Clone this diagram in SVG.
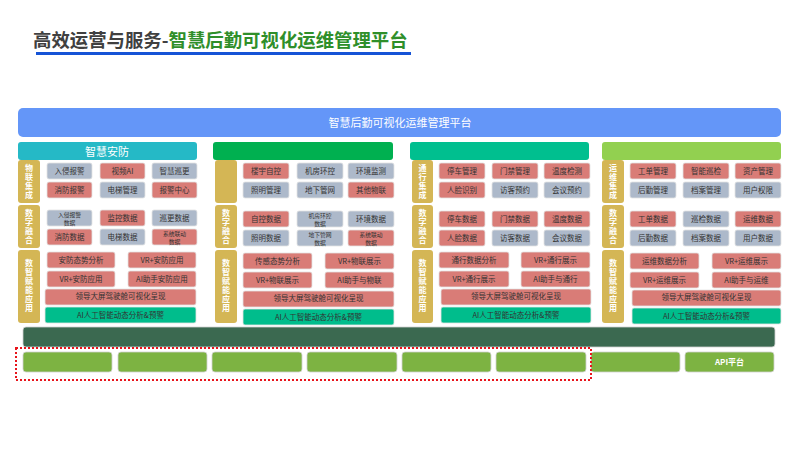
<svg xmlns="http://www.w3.org/2000/svg" width="800" height="450" viewBox="0 0 800 450">
<style>
text{font-family:"Noto Sans CJK SC","Noto Sans",sans-serif}
.r{fill:#d97c77;stroke:#e3e3e3;stroke-width:0.8}
.g{fill:#adb9ca;stroke:#e3e3e3;stroke-width:0.8}
.ai{fill:#00bd8c;stroke:#e3e3e3;stroke-width:0.8}
.gold{fill:#d4b655}
.t{font-size:7.5px;fill:#333;text-anchor:middle}
.t2{font-size:5.8px;fill:#333;text-anchor:middle}
.s{font-size:8px;fill:#fff;text-anchor:middle;font-weight:bold;writing-mode:vertical-rl;letter-spacing:1px}
.h{font-size:11px;fill:#fff;text-anchor:middle}
.bx{fill:#7db342;stroke:#d0d0d0;stroke-width:0.8}
</style>
<rect width="800" height="450" fill="#fff"/>
<g id="title">
<text x="33" y="47" font-size="18.4" font-weight="bold"><tspan fill="#404040">高效运营与服务-</tspan><tspan fill="#2f8f2a">智慧后勤可视化运维管理平台</tspan></text>
<rect x="36" y="52" width="375" height="3" fill="#1553d6"/>
</g>
<g id="platform">
<rect x="18" y="108" width="763" height="29" rx="5" fill="#6496f8"/>
<text x="400" y="127" font-size="11" fill="#fff" text-anchor="middle">智慧后勤可视化运维管理平台</text>
</g>

<g id="col1">
<rect x="18" y="142" width="179" height="18" rx="3" fill="#25b9c6"/>
<text class="h" x="107" y="155.5">智慧安防</text>
<rect class="gold" x="18" y="160" width="22" height="43" rx="3"/>
<text class="s" x="29" y="182">物联集成</text>
<rect class="gold" x="18" y="205" width="22" height="43" rx="3"/>
<text class="s" x="29" y="227">数字融合</text>
<rect class="gold" x="18" y="250" width="22" height="73" rx="3"/>
<text class="s" x="29" y="286">数智赋能应用</text>
<rect class="g" x="47" y="163" width="45" height="16" rx="2"/><text class="t" x="69.5" y="173.5">入侵报警</text>
<rect class="r" x="100" y="163" width="45" height="16" rx="2"/><text class="t" x="122.5" y="173.5">视频AI</text>
<rect class="g" x="152" y="163" width="45" height="16" rx="2"/><text class="t" x="174.5" y="173.5">智慧巡更</text>
<rect class="r" x="47" y="182" width="45" height="16" rx="2"/><text class="t" x="69.5" y="192.5">消防报警</text>
<rect class="g" x="100" y="182" width="45" height="16" rx="2"/><text class="t" x="122.5" y="192.5">电梯管理</text>
<rect class="r" x="152" y="182" width="45" height="16" rx="2"/><text class="t" x="174.5" y="192.5">报警中心</text>
<rect class="g" x="47" y="210" width="45" height="16" rx="2"/><text class="t2" x="69.5" y="216.5">入侵报警<tspan x="69.5" dy="8.5">数据</tspan></text>
<rect class="r" x="100" y="210" width="45" height="16" rx="2"/><text class="t" x="122.5" y="220.5">监控数据</text>
<rect class="g" x="152" y="210" width="45" height="16" rx="2"/><text class="t" x="174.5" y="220.5">巡更数据</text>
<rect class="r" x="47" y="229" width="45" height="16" rx="2"/><text class="t" x="69.5" y="239.5">消防数据</text>
<rect class="g" x="100" y="229" width="45" height="16" rx="2"/><text class="t" x="122.5" y="239.5">电梯数据</text>
<rect class="r" x="152" y="229" width="45" height="16" rx="2"/><text class="t2" x="174.5" y="235.5">系统联动<tspan x="174.5" dy="8.5">数据</tspan></text>
<rect class="r" x="47" y="252" width="68" height="16" rx="2"/><text class="t" x="81" y="262.5">安防态势分析</text>
<rect class="r" x="128" y="252" width="68" height="16" rx="2"/><text class="t" x="162" y="262.5">VR+安防应用</text>
<rect class="r" x="47" y="271" width="68" height="16" rx="2"/><text class="t" x="81" y="281.5">VR+安防应用</text>
<rect class="r" x="128" y="271" width="68" height="16" rx="2"/><text class="t" x="162" y="281.5">AI助手安防应用</text>
<rect class="r" x="45" y="289" width="151" height="16" rx="2"/><text class="t" x="120.5" y="299">领导大屏驾驶舱可视化呈现</text>
<rect class="ai" x="45" y="307" width="151" height="16" rx="2"/><text class="t" x="120.5" y="317.5">AI人工智能动态分析&amp;预警</text>
</g>

<g id="col2">
<rect x="213" y="142" width="180" height="18" rx="3" fill="#00b050"/>
<rect class="gold" x="215" y="160" width="22" height="43" rx="3"/>
<rect class="gold" x="215" y="205" width="22" height="43" rx="3"/>
<text class="s" x="226" y="227">数字融合</text>
<rect class="gold" x="215" y="250" width="22" height="73" rx="3"/>
<text class="s" x="226" y="286">数智赋能应用</text>
<rect class="r" x="243" y="163" width="46" height="16" rx="2"/><text class="t" x="266" y="173.5">楼宇自控</text>
<rect class="g" x="297" y="163" width="46" height="16" rx="2"/><text class="t" x="320" y="173.5">机房环控</text>
<rect class="g" x="348" y="163" width="46" height="16" rx="2"/><text class="t" x="371" y="173.5">环境监测</text>
<rect class="g" x="243" y="182" width="46" height="16" rx="2"/><text class="t" x="266" y="192.5">照明管理</text>
<rect class="g" x="297" y="182" width="46" height="16" rx="2"/><text class="t" x="320" y="192.5">地下管网</text>
<rect class="r" x="348" y="182" width="46" height="16" rx="2"/><text class="t" x="371" y="192.5">其他物联</text>
<rect class="r" x="243" y="211" width="46" height="16" rx="2"/><text class="t" x="266" y="221.5">自控数据</text>
<rect class="g" x="297" y="211" width="46" height="16" rx="2"/><text class="t2" x="320" y="217.5">机房环控<tspan x="320" dy="8.5">数据</tspan></text>
<rect class="g" x="348" y="211" width="46" height="16" rx="2"/><text class="t" x="371" y="221.5">环境数据</text>
<rect class="g" x="243" y="230" width="46" height="16" rx="2"/><text class="t" x="266" y="240.5">照明数据</text>
<rect class="g" x="297" y="230" width="46" height="16" rx="2"/><text class="t2" x="320" y="236.5">地下管网<tspan x="320" dy="8.5">数据</tspan></text>
<rect class="r" x="348" y="230" width="46" height="16" rx="2"/><text class="t2" x="371" y="236.5">系统联动<tspan x="371" dy="8.5">数据</tspan></text>
<rect class="r" x="243" y="253" width="69" height="16" rx="2"/><text class="t" x="277.5" y="263.5">传感态势分析</text>
<rect class="r" x="325" y="253" width="69" height="16" rx="2"/><text class="t" x="359.5" y="263.5">VR+物联展示</text>
<rect class="r" x="243" y="272" width="69" height="16" rx="2"/><text class="t" x="277.5" y="282.5">VR+物联展示</text>
<rect class="r" x="325" y="272" width="69" height="16" rx="2"/><text class="t" x="359.5" y="282.5">AI助手与物联</text>
<rect class="r" x="243" y="291" width="151" height="16" rx="2"/><text class="t" x="318.5" y="301">领导大屏驾驶舱可视化呈现</text>
<rect class="ai" x="243" y="309" width="151" height="16" rx="2"/><text class="t" x="318.5" y="319.5">AI人工智能动态分析&amp;预警</text>
</g>

<g id="col3">
<rect x="410" y="142" width="179" height="18" rx="3" fill="#00bf8f"/>
<rect class="gold" x="412" y="160" width="21" height="43" rx="3"/>
<text class="s" x="422.5" y="182">通行集成</text>
<rect class="gold" x="412" y="205" width="21" height="43" rx="3"/>
<text class="s" x="422.5" y="227">数字融合</text>
<rect class="gold" x="412" y="250" width="21" height="73" rx="3"/>
<text class="s" x="422.5" y="286">数智赋能应用</text>
<rect class="r" x="439" y="163" width="46" height="16" rx="2"/><text class="t" x="462" y="173.5">停车管理</text>
<rect class="r" x="492" y="163" width="46" height="16" rx="2"/><text class="t" x="515" y="173.5">门禁管理</text>
<rect class="r" x="544" y="163" width="46" height="16" rx="2"/><text class="t" x="567" y="173.5">温度检测</text>
<rect class="r" x="439" y="182" width="46" height="16" rx="2"/><text class="t" x="462" y="192.5">人脸识别</text>
<rect class="g" x="492" y="182" width="46" height="16" rx="2"/><text class="t" x="515" y="192.5">访客预约</text>
<rect class="g" x="544" y="182" width="46" height="16" rx="2"/><text class="t" x="567" y="192.5">会议预约</text>
<rect class="r" x="439" y="211" width="46" height="16" rx="2"/><text class="t" x="462" y="221.5">停车数据</text>
<rect class="r" x="492" y="211" width="46" height="16" rx="2"/><text class="t" x="515" y="221.5">门禁数据</text>
<rect class="r" x="544" y="211" width="46" height="16" rx="2"/><text class="t" x="567" y="221.5">温度数据</text>
<rect class="r" x="439" y="230" width="46" height="16" rx="2"/><text class="t" x="462" y="240.5">人脸数据</text>
<rect class="g" x="492" y="230" width="46" height="16" rx="2"/><text class="t" x="515" y="240.5">访客数据</text>
<rect class="g" x="544" y="230" width="46" height="16" rx="2"/><text class="t" x="567" y="240.5">会议数据</text>
<rect class="r" x="439" y="252" width="70" height="16" rx="2"/><text class="t" x="474" y="262.5">通行数据分析</text>
<rect class="r" x="521" y="252" width="69" height="16" rx="2"/><text class="t" x="555.5" y="262.5">VR+通行展示</text>
<rect class="r" x="439" y="271" width="70" height="16" rx="2"/><text class="t" x="474" y="281.5">VR+通行展示</text>
<rect class="r" x="521" y="271" width="69" height="16" rx="2"/><text class="t" x="555.5" y="281.5">AI助手与通行</text>
<rect class="r" x="441" y="289" width="150" height="16" rx="2"/><text class="t" x="516" y="299">领导大屏驾驶舱可视化呈现</text>
<rect class="ai" x="441" y="307" width="150" height="16" rx="2"/><text class="t" x="516" y="317.5">AI人工智能动态分析&amp;预警</text>
</g>

<g id="col4">
<rect x="602" y="142" width="179" height="18" rx="3" fill="#92d050"/>
<rect class="gold" x="602" y="160" width="22" height="43" rx="3"/>
<text class="s" x="613" y="182">运维集成</text>
<rect class="gold" x="602" y="205" width="22" height="43" rx="3"/>
<text class="s" x="613" y="227">数字融合</text>
<rect class="gold" x="602" y="250" width="22" height="73" rx="3"/>
<text class="s" x="613" y="286">数智赋能应用</text>
<rect class="r" x="630" y="163" width="46" height="16" rx="2"/><text class="t" x="653" y="173.5">工单管理</text>
<rect class="r" x="683" y="163" width="46" height="16" rx="2"/><text class="t" x="706" y="173.5">智能巡检</text>
<rect class="r" x="735" y="163" width="46" height="16" rx="2"/><text class="t" x="758" y="173.5">资产管理</text>
<rect class="g" x="630" y="182" width="46" height="16" rx="2"/><text class="t" x="653" y="192.5">后勤管理</text>
<rect class="g" x="683" y="182" width="46" height="16" rx="2"/><text class="t" x="706" y="192.5">档案管理</text>
<rect class="g" x="735" y="182" width="46" height="16" rx="2"/><text class="t" x="758" y="192.5">用户权限</text>
<rect class="r" x="630" y="211" width="46" height="16" rx="2"/><text class="t" x="653" y="221.5">工单数据</text>
<rect class="g" x="683" y="211" width="46" height="16" rx="2"/><text class="t" x="706" y="221.5">巡检数据</text>
<rect class="r" x="735" y="211" width="46" height="16" rx="2"/><text class="t" x="758" y="221.5">运维数据</text>
<rect class="g" x="630" y="230" width="46" height="16" rx="2"/><text class="t" x="653" y="240.5">后勤数据</text>
<rect class="g" x="683" y="230" width="46" height="16" rx="2"/><text class="t" x="706" y="240.5">档案数据</text>
<rect class="g" x="735" y="230" width="46" height="16" rx="2"/><text class="t" x="758" y="240.5">用户数据</text>
<rect class="r" x="630" y="253" width="69" height="16" rx="2"/><text class="t" x="664.5" y="263.5">运维数据分析</text>
<rect class="r" x="712" y="253" width="69" height="16" rx="2"/><text class="t" x="746.5" y="263.5">VR+运维展示</text>
<rect class="r" x="630" y="272" width="69" height="16" rx="2"/><text class="t" x="664.5" y="282.5">VR+运维展示</text>
<rect class="r" x="712" y="272" width="69" height="16" rx="2"/><text class="t" x="746.5" y="282.5">AI助手与运维</text>
<rect class="r" x="632" y="290" width="149" height="16" rx="2"/><text class="t" x="706.5" y="300">领导大屏驾驶舱可视化呈现</text>
<rect class="ai" x="632" y="308" width="149" height="16" rx="2"/><text class="t" x="706.5" y="318.5">AI人工智能动态分析&amp;预警</text>
</g>

<g id="base">
<rect x="23" y="327" width="752" height="20" rx="3" fill="#3b6950" stroke="#d0d0d0" stroke-width="0.8"/>
<rect class="bx" x="23" y="352" width="89" height="20" rx="3"/>
<rect class="bx" x="118" y="352" width="89" height="20" rx="3"/>
<rect class="bx" x="212" y="352" width="90" height="20" rx="3"/>
<rect class="bx" x="307" y="352" width="90" height="20" rx="3"/>
<rect class="bx" x="402" y="352" width="89" height="20" rx="3"/>
<rect class="bx" x="496" y="352" width="90" height="20" rx="3"/>
<rect class="bx" x="591" y="352" width="89" height="20" rx="3"/>
<rect class="bx" x="685" y="352" width="89" height="20" rx="3"/>
<text x="729.5" y="365" font-size="8" font-weight="bold" fill="#fff" text-anchor="middle">API平台</text>
<rect x="16" y="348" width="575" height="32" fill="none" stroke="#e8141b" stroke-width="2" stroke-dasharray="2 2"/>
</g>
</svg>
